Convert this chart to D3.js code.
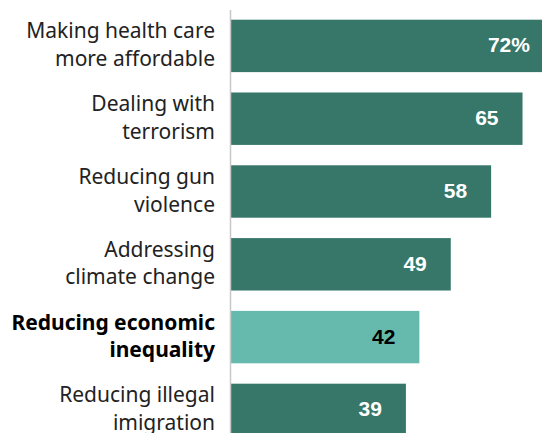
<!DOCTYPE html>
<html>
<head>
<meta charset="utf-8">
<script src="https://cdn.jsdelivr.net/npm/d3@7/dist/d3.min.js"></script>
<style>
  html, body { margin: 0; padding: 0; background: #fff; }
  svg { display: block; }
</style>
</head>
<body>
<svg id="chart" width="542" height="433"></svg>
<script>
// Share saying each issue should be a top priority (%)
const categories = [
  ["Making health care", "more affordable"],
  ["Dealing with", "terrorism"],
  ["Reducing gun", "violence"],
  ["Addressing", "climate change"],
  ["Reducing economic", "inequality"],
  ["Reducing illegal", "imigration"]
];
const values = [72, 65, 58, 49, 42, 39];
const highlighted = [false, false, false, false, true, false];
const valueLabels = ["72%", "65", "58", "49", "42", "39"];

const width = 542, height = 433;
const axisX = 231;
const labelFont = "'Noto Sans', 'Open Sans', sans-serif";
const valueFont = "'Liberation Sans', Arial, sans-serif";

const svg = d3.select("#chart");

const x = d3.scaleLinear().domain([0, 100]).range([axisX, axisX + 448.5]);
const y = d3.scaleBand()
  .domain(d3.range(categories.length))
  .range([9.5, 9.5 + 72.8 * categories.length])
  .paddingInner(0.28)
  .paddingOuter(0.14);

// bars
svg.append("g").selectAll("rect")
  .data(values)
  .join("rect")
  .attr("x", x(0))
  .attr("y", (d, i) => y(i))
  .attr("width", d => x(d) - x(0))
  .attr("height", y.bandwidth())
  .attr("fill", (d, i) => highlighted[i] ? "#65baad" : "#36776a");

// baseline
svg.append("line")
  .attr("x1", axisX - 0.5).attr("x2", axisX - 0.5)
  .attr("y1", 10).attr("y2", height)
  .attr("stroke", "#c8c8c8")
  .attr("stroke-width", 1.5);

// category labels (two lines each)
const labels = svg.append("g").selectAll("text")
  .data(categories)
  .join("text")
  .attr("text-anchor", "end")
  .attr("font-family", labelFont)
  .attr("font-size", 21)
  .attr("font-weight", (d, i) => highlighted[i] ? "bold" : "normal")
  .attr("fill", (d, i) => highlighted[i] ? "#000" : "#222")
  .attr("y", (d, i) => y(i) + y.bandwidth() / 2);

labels.selectAll("tspan")
  .data(d => d)
  .join("tspan")
  .attr("x", 215)
  .attr("dy", (d, j) => j === 0 ? -7.5 : 27.5)
  .text(d => d);

// value labels
svg.append("g").selectAll("text")
  .data(values)
  .join("text")
  .attr("text-anchor", "end")
  .attr("font-family", valueFont)
  .attr("font-size", 21)
  .attr("font-weight", "bold")
  .attr("fill", (d, i) => highlighted[i] ? "#000" : "#fff")
  .attr("x", d => x(d) - 24)
  .attr("y", (d, i) => y(i) + y.bandwidth() / 2)
  .attr("dy", 6.5)
  .text((d, i) => valueLabels[i]);
</script>
</body>
</html>
